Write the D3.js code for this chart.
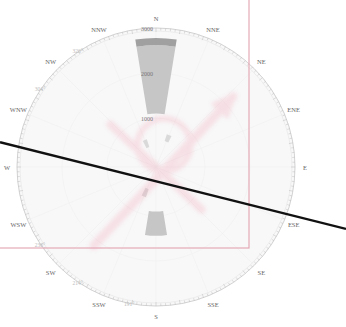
<!DOCTYPE html>
<html>
<head>
<meta charset="utf-8">
<script src="https://cdn.jsdelivr.net/npm/d3@7"></script>
<style>
  html, body { margin: 0; padding: 0; background: #fff; }
  svg { display: block; }
</style>
</head>
<body>
<div id="chart"></div>
<script>
// Compass points, clockwise from north
const directions = ["N","NNE","NE","ENE","E","ESE","SE","SSE","S","SSW","SW","WSW","W","WNW","NW","NNW"];

// Radial tick labels (value scale)
const radialTicks = [1000, 2000, 3000];

// Sector ranges: direction, inner value, outer value
const sectorDirs   = ["N",  "N",  "S",  "NNW", "NNE", "SSW"];
const sectorFrom   = [1100, 2620, 900,  380,   520,   430];
const sectorTo     = [2620, 2780, 1440, 560,   680,   620];
const sectorShade  = ["light","dark","light","faint","faint","faint"];

// Small bearing labels near the rim (degrees)
const bearingMarks = [236, 214, 191, 304, 326];

// Heading arrow (bearing, values along it)
const arrowBearing = 43;
const arrowFrom = 2000;   // tail value, opposite side
const arrowTo = 2350;     // head value
const crossBearing = 133;
const crossLen = 1300;

// Overlay trend line in frame units (0..1 across the page)
const trendX = [0, 1];
const trendY = [0.435, 0.70];

const W = 346, H = 327;
const cx = 156, cy = 167, R = 139;

const svg = d3.select("#chart").append("svg")
  .attr("width", W).attr("height", H)
  .attr("viewBox", `0 0 ${W} ${H}`);

const defs = svg.append("defs");
defs.append("filter").attr("id", "soft").attr("x", "-20%").attr("y", "-20%")
  .attr("width", "140%").attr("height", "140%")
  .append("feGaussianBlur").attr("stdDeviation", 2.2);

const r = d3.scaleLinear().domain([0, 3000]).range([4, R]);
const angle = d3.scaleBand().domain(directions).range([0, 2 * Math.PI]).align(0);
const step = angle.step();
const dirAngle = d => angle(d);

const g = svg.append("g").attr("transform", `translate(${cx},${cy})`);

// polar -> cartesian (bearing in radians, clockwise from north)
const pt = (a, rad) => [Math.sin(a) * rad, -Math.cos(a) * rad];

// Plot disc
g.append("circle").attr("r", R).attr("fill", "#f8f8f8").attr("stroke", "none");

// Faint radial grid
g.selectAll("line.spoke").data(directions).join("line")
  .attr("class", "spoke")
  .attr("x1", 0).attr("y1", 0)
  .attr("x2", d => pt(dirAngle(d), R)[0])
  .attr("y2", d => pt(dirAngle(d), R)[1])
  .attr("stroke", "#f0f0f0").attr("stroke-width", 0.6);
g.selectAll("circle.ring").data(radialTicks).join("circle")
  .attr("class", "ring").attr("r", d => r(d))
  .attr("fill", "none").attr("stroke", "#f0f0f0").attr("stroke-width", 0.6);

// Rim: double outline with fine degree ticks
g.append("circle").attr("r", R).attr("fill", "none").attr("stroke", "#c4c4c4").attr("stroke-width", 0.7);
g.append("circle").attr("r", R - 3).attr("fill", "none").attr("stroke", "#e0e0e0").attr("stroke-width", 0.5);
const degTicks = d3.range(0, 360, 2);
g.selectAll("line.deg").data(degTicks).join("line")
  .attr("class", "deg")
  .attr("x1", d => pt(d * Math.PI / 180, R)[0])
  .attr("y1", d => pt(d * Math.PI / 180, R)[1])
  .attr("x2", d => pt(d * Math.PI / 180, R - (d % 10 === 0 ? 4 : 2.5))[0])
  .attr("y2", d => pt(d * Math.PI / 180, R - (d % 10 === 0 ? 4 : 2.5))[1])
  .attr("stroke", "#bdbdbd").attr("stroke-width", 0.5);

// Sectors
const shadeFill = { light: "#c6c6c6", dark: "#a0a0a0", faint: "#cdcdcd" };
const shadeOpacity = { light: 1, dark: 1, faint: 0.7 };
const arc = d3.arc();
const sectors = sectorDirs.map((d, i) => ({
  dir: d, from: sectorFrom[i], to: sectorTo[i], shade: sectorShade[i]
}));
const half = step * 0.5 * 0.82;
g.selectAll("path.sector").data(sectors).join("path")
  .attr("class", "sector")
  .attr("d", d => arc({
    innerRadius: r(d.from), outerRadius: r(d.to),
    startAngle: dirAngle(d.dir) - half * (d.shade === "faint" ? 0.45 : 1),
    endAngle: dirAngle(d.dir) + half * (d.shade === "faint" ? 0.45 : 1)
  }))
  .attr("fill", d => shadeFill[d.shade])
  .attr("fill-opacity", d => shadeOpacity[d.shade]);

// Heading overlay (pink, translucent, soft-edged)
const aHead = arrowBearing * Math.PI / 180;
const headPt = pt(aHead, r(arrowTo));
const tailPt = pt(aHead + Math.PI, r(arrowFrom));
const pink = g.append("g").attr("opacity", 0.22).attr("filter", "url(#soft)");
pink.append("line")
  .attr("x1", tailPt[0] + 2).attr("y1", tailPt[1] + 10)
  .attr("x2", headPt[0] + 2).attr("y2", headPt[1] + 10)
  .attr("stroke", "#ee8aa4").attr("stroke-width", 9).attr("stroke-linecap", "round");
const aCross = crossBearing * Math.PI / 180;
const c1 = pt(aCross, r(crossLen)), c2 = pt(aCross + Math.PI, r(crossLen));
pink.append("line")
  .attr("x1", c1[0]).attr("y1", c1[1]).attr("x2", c2[0]).attr("y2", c2[1])
  .attr("stroke", "#ee8aa4").attr("stroke-width", 8).attr("stroke-linecap", "round");
pink.append("circle").attr("cx", 8).attr("cy", -22).attr("r", r(500))
  .attr("fill", "none").attr("stroke", "#ee8aa4").attr("stroke-width", 6);
// arrow head
const hx = headPt[0] + 2, hy = headPt[1] + 10;
const back = 20, wide = 12;
const ux = Math.sin(aHead), uy = -Math.cos(aHead);
pink.append("path")
  .attr("d", d3.line()([
    [hx + ux * 6, hy + uy * 6],
    [hx - ux * back + uy * wide, hy - uy * back - ux * wide],
    [hx - ux * back - uy * wide, hy - uy * back + ux * wide]
  ]) + "Z")
  .attr("fill", "#ee8aa4");

// Radial value labels
g.selectAll("text.rtick").data(radialTicks).join("text")
  .attr("class", "rtick")
  .attr("x", -9).attr("y", d => -r(d) + 3)
  .attr("text-anchor", "middle")
  .attr("font-family", "Liberation Serif, DejaVu Serif, serif")
  .attr("font-size", 6).attr("fill", "#777")
  .text(d => d);

// Compass labels
g.selectAll("text.dir").data(directions).join("text")
  .attr("class", "dir")
  .attr("x", d => pt(dirAngle(d), R + 10)[0])
  .attr("y", d => pt(dirAngle(d), R + 10)[1] + 2.5)
  .attr("text-anchor", "middle")
  .attr("font-family", "Liberation Serif, DejaVu Serif, serif")
  .attr("font-size", 6.5).attr("fill", "#666")
  .text(d => d);

// Bearing labels inside the rim
g.selectAll("text.bear").data(bearingMarks).join("text")
  .attr("class", "bear")
  .attr("x", d => pt(d * Math.PI / 180, R + 1)[0])
  .attr("y", d => pt(d * Math.PI / 180, R + 1)[1] + 2)
  .attr("text-anchor", "middle")
  .attr("font-family", "Liberation Serif, DejaVu Serif, serif")
  .attr("font-size", 5.5).attr("fill", "#bbb")
  .text(d => d + "°");

// Frame (pink outline) and trend line across the page
const fx = d3.scaleLinear().domain([0, 1]).range([0, W]);
const fy = d3.scaleLinear().domain([0, 1]).range([0, H]);
svg.append("rect")
  .attr("x", -2).attr("y", -2).attr("width", 251).attr("height", 250)
  .attr("fill", "none").attr("stroke", "#e4a9b8").attr("stroke-width", 1.2);
svg.append("path")
  .attr("d", d3.line().x(d => fx(d[0])).y(d => fy(d[1]))(trendX.map((x, i) => [x, trendY[i]])))
  .attr("stroke", "#111").attr("stroke-width", 2.4).attr("fill", "none");
</script>
</body>
</html>
